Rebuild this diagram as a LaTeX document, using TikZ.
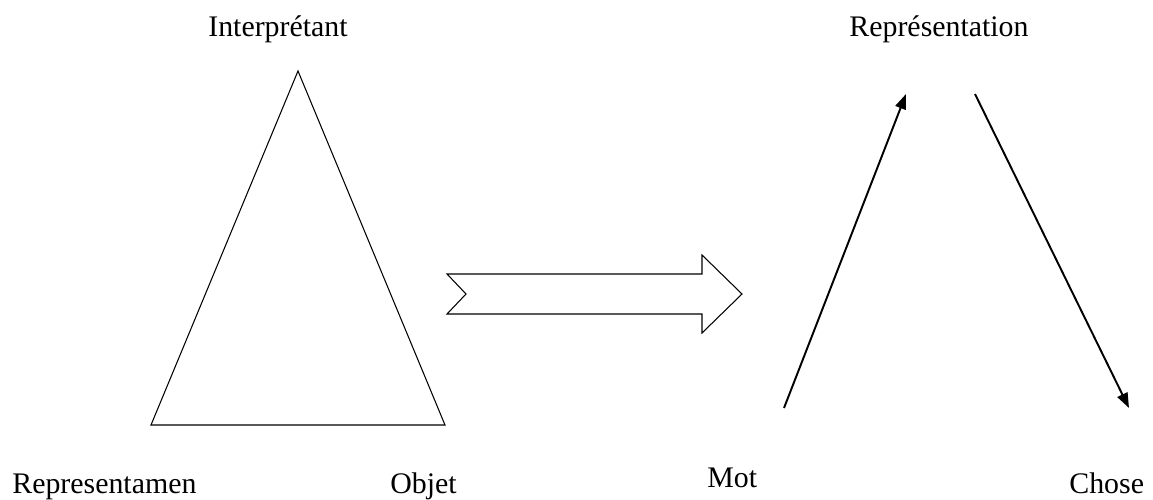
\documentclass[tikz,border=0pt]{standalone}
\usepackage{fontspec}
\setmainfont{Liberation Serif}
\usetikzlibrary{arrows.meta,calc,positioning}

\begin{document}
\begin{tikzpicture}[x=0.02cm,y=-0.02cm,font=\fontsize{17}{20}\selectfont,>={Triangle[length=0.3cm,width=0.22cm]}]
    \tikzset{
      label/.style={inner sep=0pt, anchor=base},
      edge/.style={line width=0.6pt, line join=miter},
      arrow/.style={->, line width=1.1pt}
    }
    \useasboundingbox (0,0) rectangle (1153,500);
    % triangle de Peirce
    \coordinate (apex) at (298,71);
    \coordinate (repr) at (151,425);
    \coordinate (obj) at (445,425);
    \draw[edge] (apex) -- (repr) -- (obj) -- cycle;
    \node[label] (interp) at (278,37) {Interprétant};
    \node[label, anchor=base west] (representamen) at (12,493) {Representamen};
    \node[label, anchor=base west] (objet) at (390,493) {Objet};
    % fleche creuse
    \draw[edge] (447,274) -- (702,274) -- (702,255) -- (742,294) -- (702,333)
      -- (702,314) -- (447,314) -- (466,294) -- cycle;
    % schema de droite
    \node[label] (repres) at (939,37) {Représentation};
    \node[label, anchor=base west] (mot) at (707,487) {Mot};
    \node[label, anchor=base west] (chose) at (1069,493) {Chose};
    \coordinate (motend) at (784,408);
    \coordinate (up) at (906,94);
    \coordinate (down) at (975,94);
    \coordinate (choseend) at (1129,408);
    \draw[arrow] (motend) -- (up);
    \draw[arrow] (down) -- (choseend);
  \end{tikzpicture}
\end{document}
